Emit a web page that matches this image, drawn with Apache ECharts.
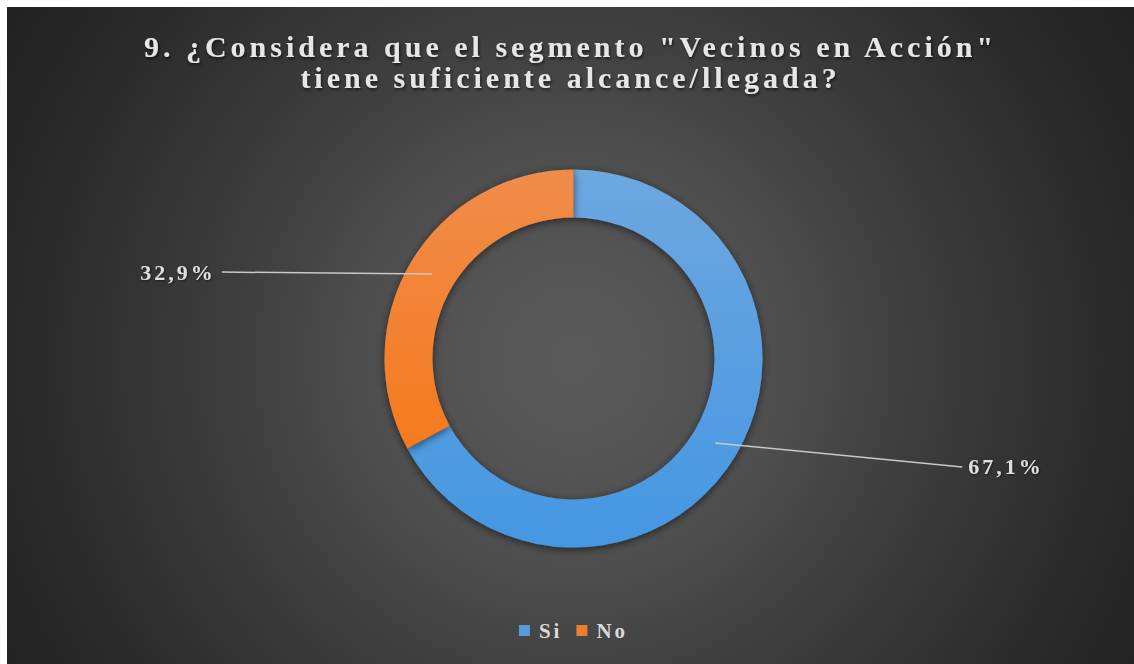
<!DOCTYPE html>
<html>
<head>
<meta charset="utf-8">
<script src="https://cdn.jsdelivr.net/npm/echarts@6/dist/echarts.min.js"></script>
<style>
  html, body { margin: 0; padding: 0; background: #ffffff; width: 1134px; height: 664px; overflow: hidden; }
  #chart {
    position: absolute; left: 7px; top: 7px; width: 1127px; height: 657px;
    background: radial-gradient(circle 680px at 566px 352px, #5a5a5a 0%, #4f4f4f 30%, #3e3e3e 50%, #2a2a2a 80%, #212121 100%);
  }
  #chart text[style*="30px"] { letter-spacing: 4px; }
  #chart text[style*="22px"] { letter-spacing: 3px; }
  #chart text[style*="21px"] { letter-spacing: 3px; }
</style>
</head>
<body>
<div id="chart"></div>
<script>
// ---- data ----
const titleLines = ['9. ¿Considera que el segmento "Vecinos en Acción"', 'tiene suficiente alcance/llegada?'];
const categories = ['Si', 'No'];
const values = [67.1, 32.9];
const sliceColorsTop = ['#6da7e0', '#f08c4a'];
const sliceColorsBottom = ['#4597e2', '#f57a1e'];
const legendColors = ['#5b9bd5', '#ed7d31'];

// ---- styles ----
const serif = "'Liberation Serif', 'Times New Roman', serif";
const labelLineEndOffsets = [[247, 24], [-210, -2]];

function fmt(v) { return v.toFixed(1).replace('.', ',') + '%'; }

const chart = echarts.init(document.getElementById('chart'), null, { renderer: 'svg' });

const donutData = categories.map((name, i) => ({
  name: name,
  value: values[i],
  itemStyle: {
    color: {
      type: 'linear', x: 0, y: 0, x2: 0, y2: 1,
      colorStops: [{ offset: 0, color: sliceColorsTop[i] }, { offset: 1, color: sliceColorsBottom[i] }]
    }
  }
}));
const labelData = categories.map((name, i) => ({ name: name, value: values[i] }));

const option = {
  backgroundColor: 'transparent',
  animation: false,
  title: {
    text: titleLines.join('\n'),
    left: 'center',
    top: 24,
    padding: 0,
    textStyle: {
      fontFamily: serif, fontWeight: 'bold', fontSize: 30, lineHeight: 31,
      color: '#e6e6e6',
      textShadowColor: 'rgba(0,0,0,0.6)', textShadowBlur: 3, textShadowOffsetX: 1, textShadowOffsetY: 2
    }
  },
  legend: {
    data: categories.map((n, i) => ({ name: n, itemStyle: { color: legendColors[i] } })),
    left: 'center',
    top: 613,
    padding: 0,
    icon: 'rect',
    itemWidth: 11,
    itemHeight: 11,
    itemGap: 20,
    selectedMode: false,
    textStyle: { fontFamily: serif, fontWeight: 'bold', fontSize: 21, lineHeight: 21, color: '#d9d9d9', padding: [0, 0, 0, 4] }
  },
  series: [
    {
      name: 'donut',
      type: 'pie',
      z: 2,
      radius: [141, 189],
      center: [566.5, 351.5],
      silent: true,
      label: { show: false },
      labelLine: { show: false },
      itemStyle: { shadowBlur: 8, shadowColor: 'rgba(0,0,0,0.55)', shadowOffsetY: 2 },
      emphasis: { disabled: true },
      data: donutData
    },
    {
      name: 'labels',
      type: 'pie',
      z: 6,
      radius: [0, 165],
      center: [566.5, 351.5],
      silent: true,
      itemStyle: { color: 'rgba(0,0,0,0)' },
      emphasis: { disabled: true },
      label: {
        show: true,
        position: 'outside',
        formatter: p => fmt(p.value),
        fontFamily: serif, fontWeight: 'bold', fontSize: 22,
        color: '#dedede',
        textShadowColor: 'rgba(0,0,0,0.5)', textShadowBlur: 2, textShadowOffsetX: 1, textShadowOffsetY: 1
      },
      labelLine: { show: true, length: 0, length2: 200, lineStyle: { color: '#c8c8c8', width: 1.5 } },
      labelLayout: function (params) {
        const p0 = params.labelLinePoints[0];
        const off = labelLineEndOffsets[params.dataIndex];
        const end = [p0[0] + off[0], p0[1] + off[1]];
        const right = off[0] > 0;
        return {
          x: end[0] + (right ? 6 : -6),
          y: end[1],
          align: right ? 'left' : 'right',
          verticalAlign: 'middle',
          labelLinePoints: [p0, end]
        };
      },
      data: labelData
    }
  ]
};
chart.setOption(option);
</script>
</body>
</html>
